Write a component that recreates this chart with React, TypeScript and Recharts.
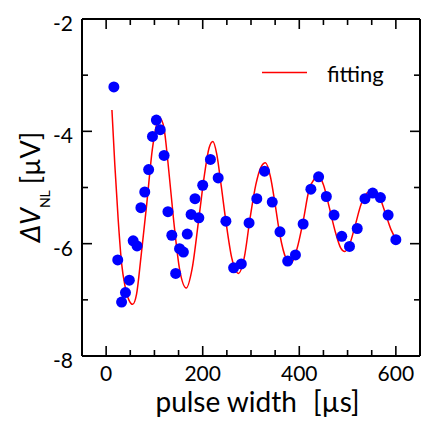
import React from 'react';
import { ComposedChart, Line, Scatter, XAxis, YAxis } from 'recharts';

const pulseWidth = [16, 24, 32, 40, 48, 56, 64, 72, 80, 88, 96, 104, 112, 120, 128, 136, 144, 152, 160, 168, 176, 184, 192, 200, 216, 232, 248, 264, 280, 296, 312, 328, 344, 360, 376, 392, 408, 424, 440, 456, 472, 488, 504, 520, 536, 552, 568, 584, 600];
const deltaV = [-3.21, -6.29, -7.04, -6.87, -6.65, -5.95, -6.04, -5.36, -5.08, -4.68, -4.09, -3.8, -3.97, -4.43, -5.43, -5.85, -6.53, -6.09, -6.15, -5.83, -5.48, -5.2, -5.54, -4.96, -4.5, -4.83, -5.6, -6.43, -6.36, -5.63, -5.2, -4.71, -5.26, -5.79, -6.31, -6.2, -5.65, -5.03, -4.81, -5.16, -5.49, -5.87, -6.05, -5.73, -5.2, -5.1, -5.18, -5.49, -5.93];

const fitX = [12, 18, 25, 32, 39, 47, 55, 63, 72, 84, 96, 104, 112, 120, 128, 140, 152, 166, 178, 192, 204, 213, 221, 229, 238, 248, 260, 274, 286, 298, 310, 320, 330, 340, 350, 360, 372, 383, 395, 408, 420, 431, 440, 450, 462, 475, 486, 494, 504, 515, 528, 540, 553, 565, 578, 590, 601];
const fitY = [-3.62, -4.6, -5.58, -6.35, -6.75, -7.0, -7.08, -6.9, -6.25, -5.3, -4.3, -3.9, -3.77, -3.95, -4.55, -5.6, -6.45, -6.79, -6.45, -5.55, -4.75, -4.3, -4.18, -4.4, -4.95, -5.6, -6.25, -6.53, -6.25, -5.55, -4.95, -4.65, -4.56, -4.8, -5.3, -5.85, -6.25, -6.35, -6.1, -5.6, -5.05, -4.85, -4.8, -4.95, -5.35, -5.8, -6.08, -6.14, -6.02, -5.7, -5.3, -5.1, -5.06, -5.15, -5.45, -5.75, -5.93];

const xTicks = [0, 50, 100, 150, 200, 250, 300, 350, 400, 450, 500, 550, 600];
const xLabels = [0, 200, 400, 600];
const yTicks = [-8, -7, -6, -5, -4, -3, -2];
const yLabels = [-8, -6, -4, -2];

const measured = pulseWidth.map((x, i) => ({ x, y: deltaV[i] }));
const fit = fitX.map((x, i) => ({ x, y: fitY[i] }));

const FONT = 'Lato, "Open Sans", sans-serif';
const MAJOR = 10;
const MINOR = 6;

const BottomTick = (props: any) => {
  const { x, y, payload } = props;
  const major = xLabels.includes(payload.value);
  return (
    <g>
      <line x1={x} x2={x} y1={y} y2={y - (major ? MAJOR : MINOR)} stroke="#000" strokeWidth={1.6} />
      {major && (
        <text x={x} y={y + 24.5} textAnchor="middle" fontSize={21} fontFamily={FONT} fill="#000">
          {payload.value}
        </text>
      )}
    </g>
  );
};

const TopTick = (props: any) => {
  const { x, y, payload } = props;
  const major = xLabels.includes(payload.value);
  return <line x1={x} x2={x} y1={y} y2={y + (major ? MAJOR : MINOR)} stroke="#000" strokeWidth={1.6} />;
};

const LeftTick = (props: any) => {
  const { x, y, payload } = props;
  const major = yLabels.includes(payload.value);
  return (
    <g>
      <line x1={x} x2={x + (major ? MAJOR : MINOR)} y1={y} y2={y} stroke="#000" strokeWidth={1.6} />
      {major && (
        <text x={x - 9} y={y + 12} textAnchor="end" fontSize={21} fontFamily={FONT} fill="#000">
          {payload.value}
        </text>
      )}
    </g>
  );
};

const RightTick = (props: any) => {
  const { x, y, payload } = props;
  const major = yLabels.includes(payload.value);
  return <line x1={x} x2={x - (major ? MAJOR : MINOR)} y1={y} y2={y} stroke="#000" strokeWidth={1.6} />;
};

export default function App() {
  const cx = 39.5;
  const cy = 187;
  return (
    <div style={{ position: 'absolute', left: 0, top: 0, width: 425, height: 422, background: '#fff' }}>
      <ComposedChart width={425} height={422} margin={{ top: 0, right: 0, bottom: 0, left: 0 }}>
        <XAxis
          xAxisId="b"
          type="number"
          dataKey="x"
          domain={[-50, 650]}
          ticks={xTicks}
          interval={0}
          orientation="bottom"
          height={66}
          tickSize={0}
          tickMargin={0}
          tick={<BottomTick />}
          axisLine={{ stroke: '#000', strokeWidth: 2 }}
          allowDataOverflow
        />
        <XAxis
          xAxisId="t"
          type="number"
          dataKey="x"
          domain={[-50, 650]}
          ticks={xTicks}
          interval={0}
          orientation="top"
          height={19}
          tickSize={0}
          tickMargin={0}
          tick={<TopTick />}
          axisLine={{ stroke: '#000', strokeWidth: 2 }}
          allowDataOverflow
        />
        <YAxis
          yAxisId="l"
          type="number"
          domain={[-8, -2]}
          ticks={yTicks}
          interval={0}
          orientation="left"
          width={82}
          tickSize={0}
          tickMargin={0}
          tick={<LeftTick />}
          axisLine={{ stroke: '#000', strokeWidth: 2 }}
          allowDataOverflow
        />
        <YAxis
          yAxisId="r"
          type="number"
          domain={[-8, -2]}
          ticks={yTicks}
          interval={0}
          orientation="right"
          width={5}
          tickSize={0}
          tickMargin={0}
          tick={<RightTick />}
          axisLine={{ stroke: '#000', strokeWidth: 2 }}
          allowDataOverflow
        />
        <Line
          xAxisId="b"
          yAxisId="l"
          data={fit}
          dataKey="y"
          type="monotone"
          stroke="#ff0000"
          strokeWidth={1.5}
          dot={false}
          activeDot={false}
          isAnimationActive={false}
        />
        <Scatter
          xAxisId="b"
          yAxisId="l"
          data={measured}
          dataKey="y"
          fill="#0000ff"
          shape={(p: any) => <circle cx={p.cx} cy={p.cy} r={5.5} fill="#0000ff" />}
          isAnimationActive={false}
        />
      </ComposedChart>
      <svg width={425} height={422} style={{ position: 'absolute', left: 0, top: 0, pointerEvents: 'none' }}>
        <line x1={262} x2={307} y1={72.5} y2={72.5} stroke="#ff0000" strokeWidth={1.5} />
        <text x={327} y={82} fontSize={22} fontFamily={FONT} fill="#000">fitting</text>
        <text
          x={cx}
          y={cy}
          transform={`rotate(-90 ${cx} ${cy})`}
          textAnchor="middle"
          fontSize={27}
          fontFamily={FONT}
          fill="#000"
        >
          <tspan fontStyle="italic">ΔV</tspan>
          <tspan fontSize={14} dy={10}>NL</tspan>
          <tspan dy={-10} dx={6}>[µV]</tspan>
        </text>
        <text x={257.5} y={411.5} textAnchor="middle" fontSize={28} fontFamily={FONT} fill="#000">
          <tspan>pulse width</tspan>
          <tspan dx={16}>[µs]</tspan>
        </text>
      </svg>
    </div>
  );
}
